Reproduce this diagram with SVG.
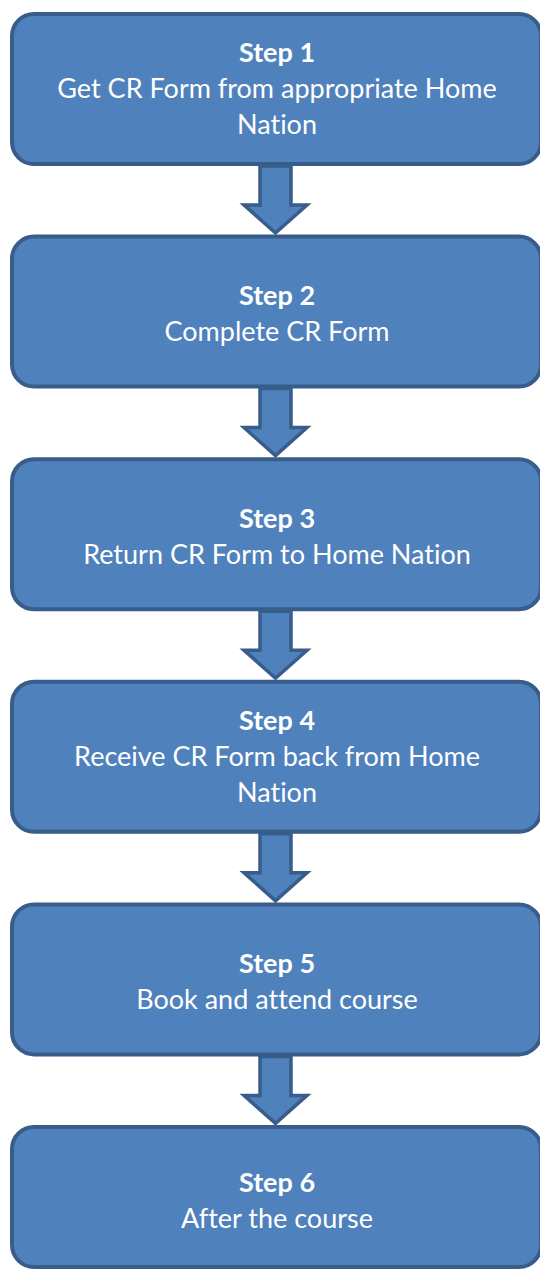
<svg xmlns="http://www.w3.org/2000/svg" width="540" height="1270" viewBox="0 0 540 1270">
<style>
.box{fill:#4F81BD;stroke:#385D8A;stroke-width:4}
.arr{fill:#4F81BD;stroke:#385D8A;stroke-width:3.5;stroke-linejoin:miter}
text{font-family:Lato,"Open Sans","Liberation Sans",sans-serif;font-size:27px;fill:#FFFFFF;text-anchor:middle;font-variant-ligatures:none}
.h{font-weight:bold}
</style>
<rect width="540" height="1270" fill="#FFFFFF"/>
<g id="connectors">
<path class="arr" d="M260,166 L291,166 L291,205 L307,205 L275.5,233 L244,205 L260,205 Z"/>
<path class="arr" d="M260,388.6 L291,388.6 L291,427.6 L307,427.6 L275.5,455.6 L244,427.6 L260,427.6 Z"/>
<path class="arr" d="M260,611.2 L291,611.2 L291,650.2 L307,650.2 L275.5,678.2 L244,650.2 L260,650.2 Z"/>
<path class="arr" d="M260,833.8 L291,833.8 L291,872.8 L307,872.8 L275.5,900.8 L244,872.8 L260,872.8 Z"/>
<path class="arr" d="M260,1056.4 L291,1056.4 L291,1095.4 L307,1095.4 L275.5,1123.4 L244,1095.4 L260,1095.4 Z"/>
</g>
<g id="step1">
<rect class="box" x="12" y="14" width="529" height="150" rx="22"/>
<text x="277" y="62" class="h">Step 1</text>
<text x="277" y="98">Get CR Form from appropriate Home</text>
<text x="277" y="134">Nation</text>
</g>
<g id="step2">
<rect class="box" x="12" y="236.6" width="529" height="150" rx="22"/>
<text x="277" y="305" class="h">Step 2</text>
<text x="277" y="341">Complete CR Form</text>
</g>
<g id="step3">
<rect class="box" x="12" y="459.2" width="529" height="150" rx="22"/>
<text x="277" y="527.5" class="h">Step 3</text>
<text x="277" y="563.5">Return CR Form to Home Nation</text>
</g>
<g id="step4">
<rect class="box" x="12" y="681.8" width="529" height="150" rx="22"/>
<text x="277" y="730" class="h">Step 4</text>
<text x="277" y="766">Receive CR Form back from Home</text>
<text x="277" y="802">Nation</text>
</g>
<g id="step5">
<rect class="box" x="12" y="904.4" width="529" height="150" rx="22"/>
<text x="277" y="972.5" class="h">Step 5</text>
<text x="277" y="1008.5">Book and attend course</text>
</g>
<g id="step6">
<rect class="box" x="12" y="1127" width="529" height="140" rx="22"/>
<text x="277" y="1192" class="h">Step 6</text>
<text x="277" y="1228">After the course</text>
</g>
</svg>
